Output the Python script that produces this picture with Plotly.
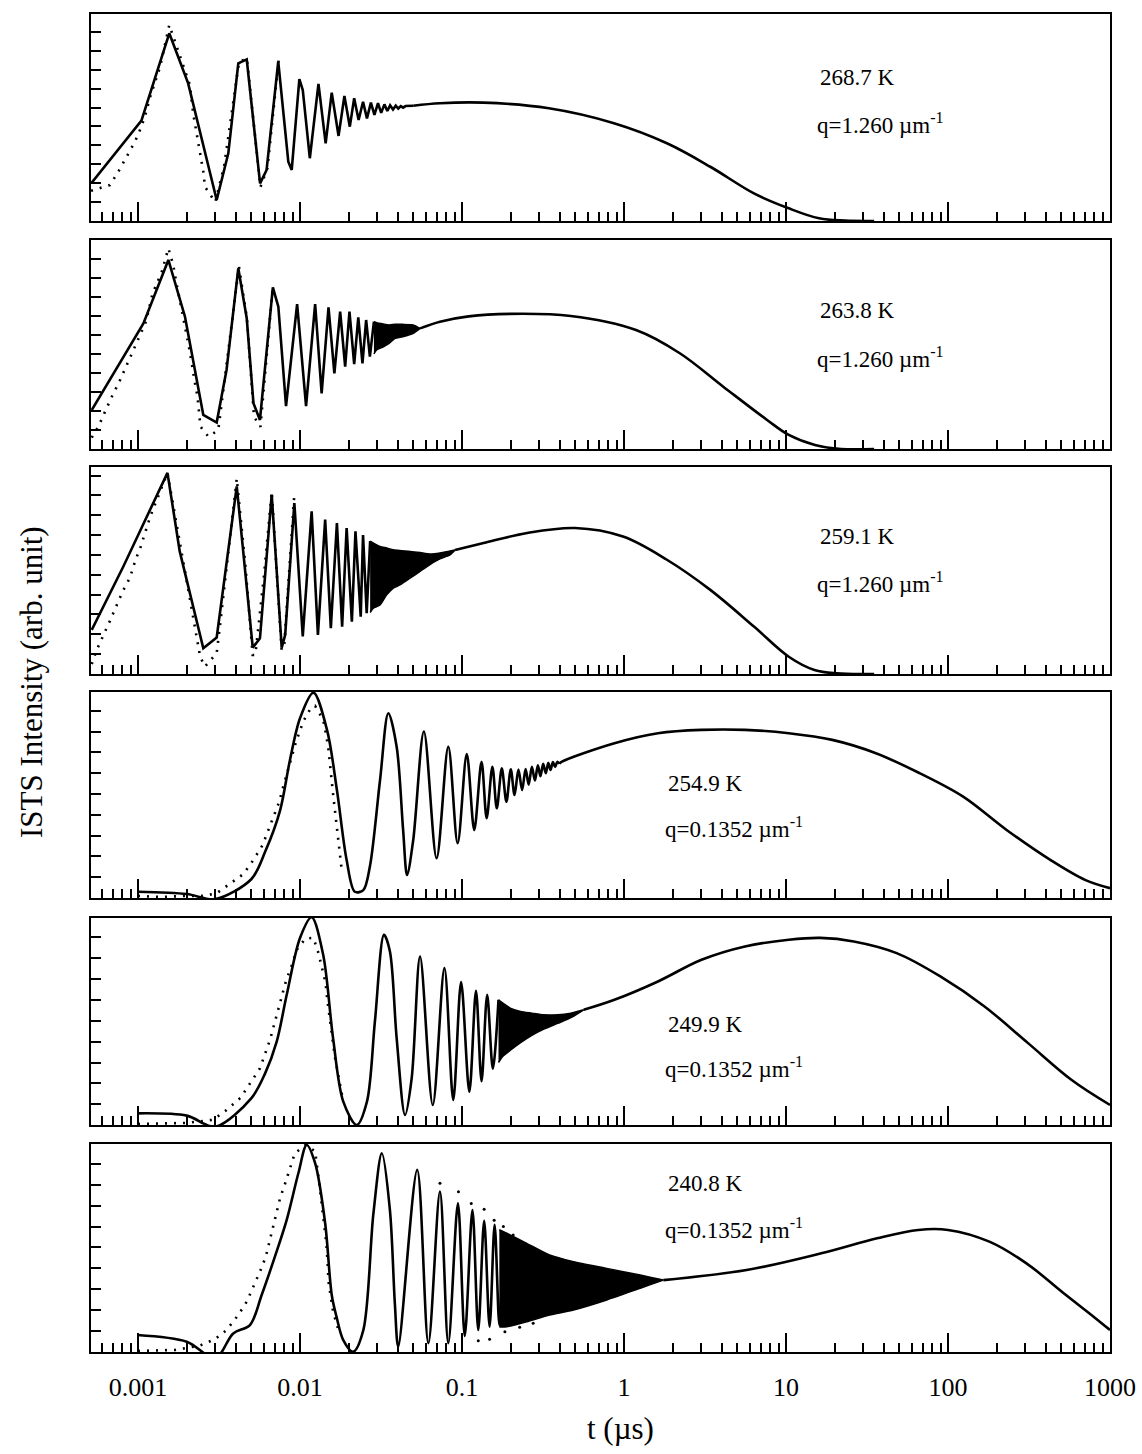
import plotly.graph_objects as go

# ---------------- data (t in microseconds, intensity in arb. units) ----------------
labels_T = ["268.7 K", "263.8 K", "259.1 K", "254.9 K", "249.9 K", "240.8 K"]
labels_q = ["q=1.260 µm<sup>-1</sup>", "q=1.260 µm<sup>-1</sup>", "q=1.260 µm<sup>-1</sup>",
            "q=0.1352 µm<sup>-1</sup>", "q=0.1352 µm<sup>-1</sup>", "q=0.1352 µm<sup>-1</sup>"]

tick_t = [0.001, 0.01, 0.1, 1, 10, 100, 1000]
tick_text = ["0.001", "0.01", "0.1", "1", "10", "100", "1000"]

# panel 1 : 268.7 K  (oscillating part, slow tail)
t1 = [0.000518, 0.00105, 0.00156, 0.00204, 0.00306, 0.00361, 0.00416, 0.00469, 0.00567, 0.00622,
      0.00734, 0.00847, 0.00889, 0.00991, 0.0104, 0.0115, 0.0130, 0.0144, 0.0157, 0.0173,
      0.0188, 0.0203, 0.0216, 0.0230, 0.0245, 0.0259, 0.0274, 0.0288, 0.0303, 0.0317,
      0.0332, 0.0346, 0.0360, 0.0375, 0.0390, 0.0404, 0.0419, 0.0433, 0.0448, 0.0500]
y1 = [2.03, 5.31, 9.93, 7.28, 1.11, 3.58, 8.34, 8.55, 1.99, 2.70,
      8.43, 3.14, 2.70, 7.50, 6.93, 3.32, 7.25, 4.11, 6.79, 4.50,
      6.61, 4.99, 6.49, 5.34, 6.31, 5.43, 6.26, 5.61, 6.23, 5.72,
      6.17, 5.82, 6.12, 5.90, 6.10, 5.95, 6.08, 6.00, 6.08, 6.10]
t1s = [0.0500, 0.0731, 0.136, 0.344, 0.867, 1.84, 3.41, 6.34, 10.4, 16.0, 23.1, 35]
y1s = [6.10, 6.23, 6.26, 5.96, 5.17, 4.11, 2.87, 1.46, 0.67, 0.14, 0.02, 0.0]
tf1 = [0.000513, 0.000671, 0.000756, 0.000852, 0.000958, 0.00105, 0.00112, 0.00119, 0.00137, 0.00156,
       0.00167, 0.00209, 0.00219, 0.00236, 0.00253, 0.00259, 0.00300, 0.00340, 0.0042, 0.0047,
       0.0057, 0.0063, 0.0074]
yf1 = [1.6, 1.90, 2.61, 3.44, 4.20, 4.99, 5.73, 6.58, 8.16, 10.37,
       9.61, 7.20, 5.70, 4.14, 2.61, 1.81, 1.0, 2.9, 8.4, 8.6,
       1.8, 2.8, 8.6]

# panel 2 : 263.8 K
t2 = [0.000518, 0.00108, 0.00154, 0.00195, 0.00253, 0.00306, 0.00352, 0.00416, 0.00469, 0.00516,
      0.00566, 0.0068, 0.00735, 0.0082, 0.0096, 0.0109, 0.0124, 0.0136, 0.0150, 0.0163,
      0.0177, 0.0190, 0.0202, 0.0216, 0.0229, 0.0243, 0.0256, 0.0270, 0.0286]
y2 = [2.05, 6.61, 9.95, 6.96, 1.79, 1.39, 4.16, 9.51, 6.88, 2.41,
      1.53, 8.51, 7.49, 2.26, 7.63, 2.26, 7.63, 2.93, 7.46, 3.98,
      7.23, 4.33, 7.23, 4.47, 6.93, 4.51, 6.79, 4.86, 6.70]
t2s = [0.0551, 0.0731, 0.11, 0.197, 0.469, 1.186, 2.21, 4.10, 7.64, 10.4, 15.1, 21.9, 35]
y2s = [6.35, 6.70, 6.98, 7.11, 7.0, 6.26, 5.04, 3.28, 1.53, 0.74, 0.21, 0.0, 0.0]
tb2 = [0.0286, 0.0297, 0.0327, 0.0355, 0.0386, 0.0431, 0.050, 0.0551]
hi2 = [6.70, 6.65, 6.58, 6.53, 6.56, 6.56, 6.53, 6.35]
lo2 = [5.0, 5.21, 5.38, 5.56, 5.82, 5.91, 6.09, 6.35]
tf2 = [0.000518, 0.000569, 0.000689, 0.000767, 0.000843, 0.000927, 0.00102, 0.00112, 0.00123, 0.00140,
       0.00154, 0.00165, 0.00171, 0.00200, 0.00209, 0.00224, 0.00233, 0.00243, 0.00272, 0.00313,
       0.0033, 0.0042, 0.0047, 0.0052, 0.0057, 0.0068]
yf2 = [0.6, 1.18, 2.75, 3.54, 4.33, 5.12, 5.91, 6.70, 8.19, 9.3,
       10.56, 9.68, 8.93, 5.91, 5.12, 3.54, 2.75, 1.18, 0.65, 1.0,
       2.58, 9.6, 6.9, 1.7, 1.17, 8.6]

# panel 3 : 259.1 K
t3 = [0.000518, 0.000812, 0.00152, 0.00181, 0.00253, 0.00306, 0.00407, 0.00511, 0.00566, 0.00669,
      0.00771, 0.0081, 0.00923, 0.0104, 0.0118, 0.0129, 0.0143, 0.0155, 0.0169, 0.0182,
      0.0194, 0.0209, 0.0220, 0.0237, 0.0245, 0.0258, 0.0271]
y3 = [2.22, 5.42, 10.14, 6.18, 1.30, 1.84, 9.46, 1.33, 1.80, 9.04,
      1.33, 1.97, 8.62, 1.89, 8.20, 1.97, 7.78, 2.31, 7.61, 2.39,
      7.36, 2.64, 7.19, 2.89, 7.0, 3.07, 6.70]
t3s = [0.0906, 0.136, 0.2527, 0.4983, 0.9858, 1.84, 3.41, 6.34, 10.4, 15.0, 20.5, 35]
y3s = [6.25, 6.60, 7.11, 7.36, 6.93, 5.76, 4.24, 2.39, 0.87, 0.20, 0.03, 0.0]
tb3 = [0.0271, 0.0284, 0.0312, 0.0343, 0.0377, 0.0414, 0.0478, 0.0551, 0.0634, 0.0731, 0.0843, 0.0906]
hi3 = [6.70, 6.60, 6.43, 6.35, 6.26, 6.22, 6.18, 6.12, 6.05, 6.10, 6.20, 6.25]
lo3 = [3.1, 3.32, 3.48, 3.99, 4.33, 4.49, 4.83, 5.17, 5.51, 5.80, 6.00, 6.25]
tf3 = [0.000518, 0.000556, 0.000671, 0.000731, 0.000804, 0.000893, 0.000958, 0.00104, 0.00119, 0.00152,
       0.00173, 0.00200, 0.00223, 0.00242, 0.00259, 0.00306, 0.00321, 0.00407, 0.0046, 0.0051,
       0.0053, 0.0060, 0.00669, 0.0077, 0.0080, 0.0092]
yf3 = [0.5, 1.21, 2.68, 3.40, 4.16, 4.86, 5.67, 6.43, 7.94, 10.14,
       7.53, 4.61, 2.34, 0.87, 0.37, 1.05, 2.47, 9.85, 5.5, 0.96,
       0.96, 5.0, 9.2, 1.21, 1.5, 8.9]

# panel 4 : 254.9 K
t4 = [0.001, 0.002, 0.003, 0.005, 0.0061, 0.00753, 0.00867, 0.0100, 0.0121, 0.01468,
      0.0169, 0.0194, 0.0218, 0.0246, 0.0270, 0.0312, 0.0351, 0.0395, 0.0433, 0.0458,
      0.0500, 0.0582, 0.0697, 0.0823, 0.0940, 0.107, 0.119, 0.132, 0.142, 0.154,
      0.164, 0.176, 0.188, 0.200, 0.211, 0.223, 0.235, 0.247, 0.258, 0.270,
      0.282, 0.294, 0.305, 0.317, 0.329, 0.341, 0.352, 0.364, 0.376, 0.388, 0.400]
y4 = [0.30, 0.19, -0.05, 0.90, 2.23, 4.2, 6.63, 8.64, 9.87, 8.08,
      5.19, 1.83, 0.30, 0.38, 1.51, 5.67, 8.88, 7.27, 3.27, 1.11,
      2.79, 8.0, 1.91, 7.27, 2.63, 6.92, 3.27, 6.55, 3.83, 6.31,
      4.31, 6.23, 4.63, 6.19, 4.95, 6.17, 5.19, 6.2, 5.45, 6.3,
      5.65, 6.38, 5.85, 6.45, 6.0, 6.5, 6.15, 6.53, 6.3, 6.55, 6.45]
t4s = [0.400, 0.414, 0.873, 1.62, 3.01, 5.58, 10.4, 19.3, 35.9, 66.7, 124, 230, 428, 701, 1000]
y4s = [6.45, 6.55, 7.44, 7.92, 8.08, 8.08, 7.92, 7.60, 6.96, 6.0, 4.87, 3.27, 1.83, 0.87, 0.47]
tf4 = [0.001, 0.00137, 0.002, 0.0025, 0.00305, 0.00361, 0.00447, 0.00516, 0.00588, 0.00638,
       0.0069, 0.00745, 0.00788, 0.00835, 0.00886, 0.00945, 0.0105, 0.0116, 0.0124, 0.0139,
       0.0145, 0.0150, 0.0160, 0.0180]
yf4 = [0.1, 0.05, 0.1, 0.1, 0.22, 0.63, 1.15, 1.83, 2.55, 3.27,
       3.99, 4.63, 5.35, 6.07, 6.79, 7.51, 8.5, 9.1, 9.23, 8.56,
       7.84, 7.12, 5.0, 1.5]

# panel 5 : 249.9 K
t5 = [0.001, 0.002, 0.003, 0.005, 0.0061, 0.00718, 0.00828, 0.0100, 0.0118, 0.0139,
      0.0160, 0.0185, 0.0224, 0.0259, 0.0290, 0.0330, 0.0359, 0.0395, 0.0445, 0.0489,
      0.0551, 0.0660, 0.0779, 0.0883, 0.0987, 0.111, 0.122, 0.132, 0.143, 0.155, 0.168]
y5 = [0.56, 0.45, -0.08, 1.28, 2.49, 4.00, 6.25, 8.98, 9.97, 8.17,
      4.17, 1.12, 0.0, 1.12, 4.97, 9.13, 8.33, 4.17, 0.48, 2.24,
      8.09, 0.96, 7.53, 1.20, 6.86, 1.60, 6.44, 2.1, 6.25, 2.7, 6.01]
t5s = [0.564, 0.873, 1.62, 3.01, 5.58, 10.4, 16.3, 26.2, 48.2, 89.7, 168, 312, 580, 1000]
y5s = [5.53, 6.01, 6.89, 7.93, 8.57, 8.89, 8.98, 8.81, 8.25, 7.13, 5.69, 3.93, 2.16, 0.96]
tb5 = [0.168, 0.179, 0.2, 0.23, 0.27, 0.32, 0.39, 0.47, 0.564]
hi5 = [6.01, 5.85, 5.60, 5.45, 5.37, 5.29, 5.29, 5.37, 5.53]
lo5 = [3.0, 3.3, 3.6, 3.95, 4.3, 4.6, 4.88, 5.15, 5.53]
tf5 = [0.001, 0.002, 0.0029, 0.00352, 0.0043, 0.00491, 0.00566, 0.00653, 0.00735, 0.00818,
       0.00889, 0.00955, 0.0108, 0.0121, 0.0130, 0.0144, 0.0147, 0.0164, 0.0185]
yf5 = [0.05, 0.1, 0.25, 0.72, 1.31, 2.0, 2.72, 4.09, 5.53, 6.89,
       7.66, 8.41, 8.95, 8.98, 8.25, 6.81, 6.09, 3.28, 1.12]

# panel 6 : 240.8 K
t6 = [0.00099, 0.002, 0.003, 0.00387, 0.00491, 0.0058, 0.0070, 0.00828, 0.00977, 0.0110,
      0.0124, 0.0143, 0.0157, 0.0168, 0.0185, 0.0213, 0.0246, 0.0284, 0.0320, 0.0359,
      0.0385, 0.0404, 0.0529, 0.0620, 0.0731, 0.0823, 0.0944, 0.104, 0.116, 0.126,
      0.137, 0.148, 0.159, 0.170, 0.180]
y6 = [0.81, 0.49, -0.3, 0.89, 1.29, 2.73, 4.56, 6.32, 8.55, 9.90,
      9.03, 6.16, 2.73, 1.69, 0.57, 0.01, 1.05, 6.64, 9.51, 6.79,
      2.33, 0.25, 8.71, 0.42, 7.67, 0.42, 7.11, 0.77, 6.79, 1.05,
      6.28, 1.21, 6.08, 1.3, 5.68]
t6s = [1.75, 5.71, 16.5, 36.5, 65.5, 100, 180, 305, 518, 792, 1000]
y6s = [3.44, 3.92, 4.72, 5.44, 5.84, 5.84, 5.28, 4.24, 2.81, 1.69, 1.05]
tb6 = [0.170, 0.189, 0.251, 0.347, 0.488, 0.783, 1.26, 1.75]
hi6 = [5.85, 5.68, 5.20, 4.64, 4.32, 4.0, 3.68, 3.44]
lo6 = [1.2, 1.21, 1.45, 1.77, 2.01, 2.49, 3.05, 3.44]
tf6 = [0.001, 0.0017, 0.0024, 0.00298, 0.00352, 0.00416, 0.00469, 0.00516, 0.00566, 0.00615,
       0.00679, 0.00753, 0.00810, 0.0093, 0.0108, 0.0124, 0.0133, 0.0145, 0.0148, 0.0150,
       0.0160, 0.0175]
yf6 = [0.05, 0.1, 0.3, 0.61, 1.05, 1.77, 2.41, 3.12, 3.84, 4.56,
       5.92, 7.35, 8.07, 9.51, 9.90, 9.6, 7.75, 5.28, 4.32, 3.36,
       1.93, 0.9]
tpk6 = [0.0731, 0.0951, 0.114, 0.137, 0.158, 0.180, 0.207, 0.233, 0.27]
ypk6 = [8.07, 7.67, 7.10, 6.83, 6.30, 6.0, 5.6, 5.25, 4.95]
ttr6 = [0.126, 0.148, 0.184, 0.227, 0.275]
ytr6 = [0.54, 0.61, 0.97, 1.18, 1.37]

osc_t = [t1, t2, t3, t4, t5, t6]
osc_y = [y1, y2, y3, y4, y5, y6]
tail_t = [t1s, t2s, t3s, t4s, t5s, t6s]
tail_y = [y1s, y2s, y3s, y4s, y5s, y6s]
band_t = [None, tb2, tb3, None, tb5, tb6]
band_hi = [None, hi2, hi3, None, hi5, hi6]
band_lo = [None, lo2, lo3, None, lo5, lo6]
fit_t = [tf1, tf2, tf3, tf4, tf5, tf6]
fit_y = [yf1, yf2, yf3, yf4, yf5, yf6]

# ---------------- layout constants (pixels) ----------------
W, H = 1142, 1454
X_LEFT, X_RIGHT = 91, 1110
PANEL_PX = [(14, 221), (240, 449), (466.7, 674), (692, 898), (917.7, 1125), (1144, 1352)]
Y_TOP = [10.95, 11.0, 10.45, 9.9, 9.95, 9.95]
N_YTICKS = [10, 10, 10, 9, 9, 9]
OSC_SHAPE = ["linear", "linear", "linear", "spline", "spline", "spline"]
LABEL_X = [818, 818, 818, 666, 666, 666]
LABEL_Y = [(77, 124), (311, 357), (536, 582), (783, 827), (1024, 1067), (1183, 1228)]

FONT = "Liberation Serif"
LW = 2.6
minor_vals = [m * d for d in [0.0001, 0.001, 0.01, 0.1, 1, 10, 100] for m in range(2, 10)]
minor_vals = [v for v in minor_vals if 0.00052 < v < 1000]

fig = go.Figure()
for i in range(6):
    xa = "x" if i == 0 else f"x{i+1}"
    ya = "y" if i == 0 else f"y{i+1}"
    common = dict(xaxis=xa, yaxis=ya, showlegend=False, hoverinfo="skip")
    # fitted curve (dotted)
    fig.add_trace(go.Scatter(x=fit_t[i], y=fit_y[i], mode="lines",
                             line=dict(color="black", width=2.6, dash="2px,7px"), **common))
    # unresolved fast-oscillation region
    if band_t[i] is not None:
        fig.add_trace(go.Scatter(x=band_t[i] + band_t[i][::-1], y=band_hi[i] + band_lo[i][::-1],
                                 mode="lines", fill="toself", fillcolor="black",
                                 line=dict(color="black", width=1.5, shape="spline", smoothing=0.6),
                                 **common))
    # measured signal (solid): oscillating part and slow tail
    fig.add_trace(go.Scatter(x=osc_t[i], y=osc_y[i], mode="lines",
                             line=dict(color="black", width=LW, shape=OSC_SHAPE[i], smoothing=0.9),
                             **common))
    fig.add_trace(go.Scatter(x=tail_t[i], y=tail_y[i], mode="lines",
                             line=dict(color="black", width=LW, shape="spline", smoothing=1.0),
                             **common))
    if i == 5:
        fig.add_trace(go.Scatter(x=tpk6 + ttr6, y=ypk6 + ytr6, mode="markers",
                                 marker=dict(color="black", size=3), **common))

    top, bot = PANEL_PX[i]
    sfx = "" if i == 0 else str(i + 1)
    fig.layout[f"xaxis{sfx}"] = dict(
        type="log", range=[-3.2901, 3.0], domain=[X_LEFT / W, X_RIGHT / W], anchor=ya,
        showline=True, linecolor="black", linewidth=2, mirror=True,
        ticks="inside", ticklen=19, tickwidth=1.7, tickcolor="black",
        tickmode="array", tickvals=tick_t, ticktext=tick_text, showticklabels=(i == 5),
        tickfont=dict(family=FONT, size=26, color="black"), ticklabelstandoff=11,
        minor=dict(ticks="inside", ticklen=9, tickwidth=1.6, tickcolor="black",
                   tickmode="array", tickvals=minor_vals, showgrid=False),
        showgrid=False, zeroline=False, automargin=False)
    fig.layout[f"yaxis{sfx}"] = dict(
        range=[0, Y_TOP[i]], domain=[1 - bot / H, 1 - top / H], anchor=xa,
        showline=True, linecolor="black", linewidth=2, mirror=True,
        ticks="inside", ticklen=10, tickwidth=1.7, tickcolor="black",
        tickmode="array", tickvals=list(range(1, N_YTICKS[i] + 1)), showticklabels=False,
        showgrid=False, zeroline=False, automargin=False)
    fig.add_annotation(text=labels_T[i], x=LABEL_X[i] / W, y=1 - LABEL_Y[i][0] / H,
                       xref="paper", yref="paper", xanchor="left", yanchor="middle", showarrow=False,
                       font=dict(family=FONT, size=23, color="black"))
    fig.add_annotation(text=labels_q[i], x=(LABEL_X[i] - 3) / W, y=1 - LABEL_Y[i][1] / H,
                       xref="paper", yref="paper", xanchor="left", yanchor="middle", showarrow=False,
                       font=dict(family=FONT, size=23, color="black"))

fig.add_annotation(text="t (µs)", x=620 / W, y=1 - 1428 / H, xref="paper", yref="paper",
                   xanchor="center", yanchor="middle", showarrow=False,
                   font=dict(family=FONT, size=31, color="black"))
fig.add_annotation(text="ISTS Intensity (arb. unit)", x=31 / W, y=1 - 682 / H, xref="paper", yref="paper",
                   xanchor="center", yanchor="middle", textangle=-90, showarrow=False,
                   font=dict(family=FONT, size=31, color="black"))

fig.update_layout(width=W, height=H, margin=dict(l=0, r=0, t=0, b=0),
                  paper_bgcolor="white", plot_bgcolor="white", showlegend=False)
fig.write_html("out.html")
